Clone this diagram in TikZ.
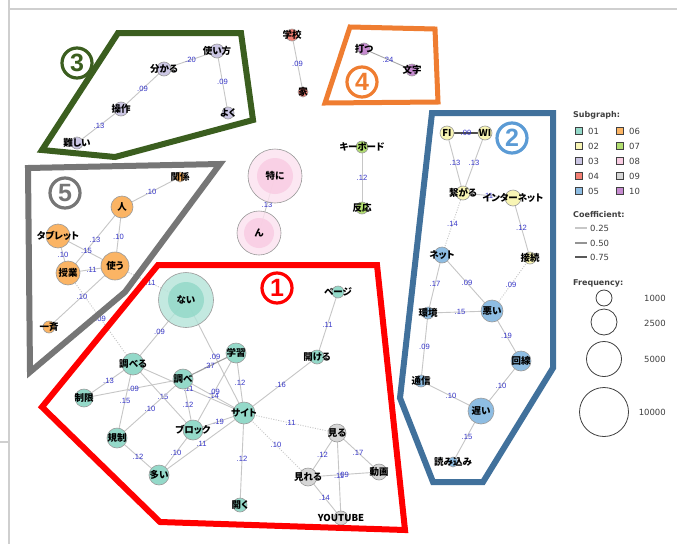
\documentclass[tikz,border=0pt]{standalone}
\usepackage{fontspec}
\setmainfont{Liberation Sans}
\newfontfamily\cjk[RawFeature=+palt]{Noto Sans CJK JP}
\newfontfamily\legfont{DejaVu Sans}
\usetikzlibrary{calc}
\definecolor{cTeal}{HTML}{94D9C9}
\definecolor{cTealH}{HTML}{B4E4D9}
\definecolor{cYel}{HTML}{F8F5B4}
\definecolor{cLav}{HTML}{CBC6E4}
\definecolor{cRed}{HTML}{F47F73}
\definecolor{cBlue}{HTML}{8EBDE3}
\definecolor{cOra}{HTML}{FBB464}
\definecolor{cGrn}{HTML}{B1DE6F}
\definecolor{cPnk}{HTML}{F9CDE3}
\definecolor{cPnkH}{HTML}{FCE2EF}
\definecolor{cGry}{HTML}{D6D6D6}
\definecolor{cPur}{HTML}{C68BD0}
\definecolor{nodegray}{HTML}{9A9A9A}
\definecolor{edgegray}{HTML}{C6C6C6}
\definecolor{labblue}{HTML}{3535C8}
\definecolor{hRed}{HTML}{FF0000}
\definecolor{hGrn}{HTML}{3B5E1F}
\definecolor{hOra}{HTML}{EF7D31}
\definecolor{hBlu}{HTML}{41719C}
\definecolor{hBluL}{HTML}{5B9BD5}
\definecolor{hGry}{HTML}{767676}
\definecolor{frame}{HTML}{CFCFCF}
\definecolor{legtext}{HTML}{404040}
\pgfdeclarelayer{bglayer}
\pgfdeclarelayer{edgelayer}
\pgfsetlayers{bglayer,edgelayer,main}
\newcommand\nd[6]{%
  \node[vtx,fill=#5,minimum size=#4*2pt] (#1) at (#2,#3) {};
  \node[vtxt] at (#1) {#6};}
\newcommand\bignd[8]{%
  \node[vtx,fill=#6,minimum size=#4*2pt,fill opacity=0.8] (#1) at (#2,#3) {};
  \fill[#7,fill opacity=0.85] (#1) circle[radius=#5];
  \node[vtxt] at (#1) {#8};}
\newcommand\ed[4][]{%
  \draw[edgeline,#1] (#2.center) -- (#3.center);
  \node[elab] at ($(#2)!0.5!(#3)$) {#4};}
\begin{document}
\begin{tikzpicture}[x=1pt,y=-1pt,
  vtx/.style={circle,draw=nodegray,line width=0.6pt,inner sep=0pt,outer sep=0pt},
  vtxt/.style={font=\cjk\bfseries\fontsize{9.5}{10}\selectfont,inner sep=0pt,text=black},
  elab/.style={font=\fontsize{7.6}{8}\selectfont,text=labblue,inner sep=0pt},
  edgeline/.style={draw=edgegray,line width=0.9pt},
  crossedge/.style={dash pattern=on 1pt off 1.5pt},
  hull/.style={line width=6pt,line join=miter},
  cnum/.style={circle,draw,line width=3.2pt,minimum size=30pt,inner sep=0pt,
    font=\bfseries\fontsize{25}{25}\selectfont},
  legh/.style={font=\legfont\bfseries\fontsize{8}{9}\selectfont,text=legtext,anchor=west,inner sep=0pt},
  legl/.style={font=\legfont\fontsize{8.5}{9}\selectfont,text=legtext,anchor=west,inner sep=0pt},
  legsq/.style={draw=legtext,line width=0.6pt,minimum size=7.5pt,inner sep=0pt},
  legc/.style={circle,draw=legtext,line width=0.8pt,inner sep=0pt}]
\useasboundingbox (0,0) rectangle (677,544);
\begin{pgfonlayer}{bglayer}
\fill[white] (0,0) rectangle (677,544);
\draw[frame,line width=2pt] (9,0) -- (9,544);
\draw[frame,line width=2pt] (9,9) -- (677,9);
\draw[frame,line width=1.5pt] (0,442) -- (9,442);
\end{pgfonlayer}

% ---------- nodes ----------
% subgraph 03
\nd{uk}{217}{51}{7}{cLav}{使い方}
\nd{wk}{164}{69}{7}{cLav}{分かる}
\nd{so}{121}{109}{7}{cLav}{操作}
\nd{mu}{77}{143}{6}{cLav}{難しい}
\nd{yo}{228}{113}{6}{cLav}{よく}
% 04, 10, 07, 08
\nd{ga}{292}{35}{6}{cRed}{学校}
\nd{ie}{303}{92}{5}{cRed}{家}
\nd{ut}{364}{49}{6}{cPur}{打つ}
\nd{mo}{412}{70}{6}{cPur}{文字}
\nd{kb}{362}{147}{6}{cGrn}{キーボード}
\nd{ha}{362}{208}{6}{cGrn}{反応}
\bignd{tn}{275}{176}{27}{18}{cPnkH}{cPnk}{特に}
\bignd{nn}{259}{233}{22}{15}{cPnkH}{cPnk}{ん}
% 02
\nd{fi}{447}{133}{7}{cYel}{FI}
\nd{wi}{485}{133}{7}{cYel}{WI}
\nd{tg}{463}{193}{7}{cYel}{繋がる}
\nd{in}{513}{198}{8}{cYel}{インターネット}
\nd{se}{530}{258}{6}{cYel}{接続}
% 05
\nd{ne}{442}{255}{8}{cBlue}{ネット}
\nd{kk}{428}{313}{6}{cBlue}{環境}
\nd{wa}{492}{311}{11}{cBlue}{悪い}
\nd{ka}{521}{361}{10}{cBlue}{回線}
\nd{ts}{421}{381}{6}{cBlue}{通信}
\nd{os}{481}{411}{13}{cBlue}{遅い}
\nd{yk}{453}{462}{5}{cBlue}{読み込み}
% 06
\nd{kan}{180}{177}{5}{cOra}{関係}
\nd{hi}{122}{207}{11}{cOra}{人}
\nd{tb}{58}{236}{12}{cOra}{タブレット}
\nd{tu}{115}{266}{14}{cOra}{使う}
\nd{ju}{68}{273}{12}{cOra}{授業}
\nd{is}{49}{327}{6}{cOra}{一斉}
% 01
\bignd{nai}{186}{300}{27.5}{18}{cTealH}{cTeal}{ない}
\nd{sb}{133}{364}{11}{cTeal}{調べる}
\nd{sg}{84}{398}{9}{cTeal}{制限}
\nd{sr}{183}{379}{10}{cTeal}{調べ}
\nd{ki}{117}{438}{10}{cTeal}{規制}
\nd{bl}{193}{430}{10}{cTeal}{ブロック}
\nd{oo}{159}{475}{10}{cTeal}{多い}
\nd{gk}{236}{353}{10}{cTeal}{学習}
\nd{st}{244}{413}{11}{cTeal}{サイト}
\nd{pg}{338}{292}{6}{cTeal}{ページ}
\nd{ak}{317}{357}{7}{cTeal}{開ける}
\nd{hr}{240}{505}{7}{cTeal}{開く}
% 09
\nd{mi}{337}{433}{9}{cGry}{見る}
\nd{mr}{308}{477}{9}{cGry}{見れる}
\nd{dg}{379}{472}{8}{cGry}{動画}
\nd{yt}{341}{518}{7}{cGry}{YOUTUBE}

% ---------- edges ----------
\begin{pgfonlayer}{edgelayer}
\ed{uk}{wk}{.20}
\ed{wk}{so}{.09}
\ed{so}{mu}{.13}
\ed{uk}{yo}{.09}
\ed[draw=gray!70]{ut}{mo}{.24}
\ed{ga}{ie}{.09}
\ed{kb}{ha}{.12}
\ed{tn}{nn}{.13}
\ed[draw=black!70,line width=1.3pt]{fi}{wi}{.09}
\ed{fi}{tg}{.13}
\ed{wi}{tg}{.13}
\ed{tg}{in}{.11}
\ed{in}{se}{.12}
\ed[crossedge]{tg}{ne}{.14}
\ed{ne}{kk}{.17}
\ed{ne}{wa}{.09}
\ed[crossedge]{se}{wa}{.09}
\ed{kk}{wa}{.15}
\ed{wa}{ka}{.19}
\ed{kk}{ts}{.09}
\ed{ts}{os}{.10}
\ed{ka}{os}{.10}
\ed{os}{yk}{.15}
\ed{kan}{hi}{.10}
\ed{hi}{ju}{.13}
\ed{hi}{tu}{.10}
\ed{tb}{tu}{.15}
\ed{tb}{ju}{.10}
\ed{ju}{tu}{.11}
\ed{tu}{is}{.10}
\ed[crossedge]{ju}{sb}{.09}
\ed[crossedge]{tu}{nai}{.11}
\ed{nai}{sb}{.09}
\ed{nai}{st}{.09}
\ed{sb}{sg}{.13}
\ed{sg}{sr}{.09}
\ed{sb}{ki}{.15}
\ed{sb}{bl}{.15}
\ed{sb}{st}{.11}
\ed[draw=gray!75,line width=1.1pt]{sr}{gk}{.37}
\ed{sr}{bl}{.12}
\ed{sr}{st}{.14}
\ed{sr}{ki}{.10}
\ed{gk}{bl}{.09}
\ed{gk}{st}{.12}
\ed{bl}{st}{.19}
\ed{ki}{oo}{.12}
\ed{bl}{oo}{.10}
\ed{st}{oo}{.11}
\ed{st}{ak}{.16}
\ed{ak}{pg}{.11}
\ed{st}{hr}{.12}
\ed[crossedge]{st}{mi}{.11}
\ed[crossedge]{st}{mr}{.10}
\ed{mi}{mr}{.12}
\ed{mi}{dg}{.17}
\ed{mr}{dg}{.09}
\ed{mi}{yt}{.11}
\ed{mr}{yt}{.14}
\end{pgfonlayer}

% ---------- hulls ----------
\draw[hull,hRed] (158,265) -- (377,265) -- (405,530) -- (160,522) -- (42,407) -- cycle;
\draw[hull,hGrn] (118,33) -- (241,33) -- (253,120) -- (115,157) -- (42,150) -- cycle;
\draw[hull,hOra,line width=5pt] (350,27) -- (435,29) -- (438,102) -- (325,103) -- cycle;
\draw[hull,hBlu] (432,113) -- (553,113) -- (553,368) -- (483,482) -- (433,482) -- (400,398) -- cycle;
\draw[hull,hGry] (28,168) -- (220,164) -- (125,292) -- (30,372) -- cycle;
\node[cnum,hRed,text=hRed] (c1) at (277,288) {1};
\node[cnum,hBluL,text=hBluL] (c2) at (512,138) {2};
\node[cnum,hGrn,text=hGrn] (c3) at (77,63) {3};
\node[cnum,hOra,text=hOra] (c4) at (362,82) {4};
\node[cnum,hGry,text=hGry] (c5) at (65,193) {5};

% ---------- legend ----------
\node[legh] (lsub) at (573,115) {Subgraph:};
\foreach \c/\t/\yy in {cTeal/01/131,cYel/02/146,cLav/03/161,cRed/04/176,cBlue/05/191}{
  \node[legsq,fill=\c] (sq\t) at (579,\yy) {};
  \node[legl] (lt\t) at (588,\yy) {\t};}
\foreach \c/\t/\yy in {cOra/06/131,cGrn/07/146,cPnk/08/161,cGry/09/176,cPur/10/191}{
  \node[legsq,fill=\c] (sq\t) at (620,\yy) {};
  \node[legl] (lt\t) at (629,\yy) {\t};}
\node[legh] (lcoef) at (573,215) {Coefficient:};
\coordinate (la1) at (575,228); \coordinate (lb1) at (587,228);
\coordinate (la2) at (575,243); \coordinate (lb2) at (587,243);
\coordinate (la3) at (575,257); \coordinate (lb3) at (587,257);
\draw[line width=1.1pt,black!22] (la1) -- (lb1);
\draw[line width=1.1pt,black!42] (la2) -- (lb2);
\draw[line width=1.1pt,black!65] (la3) -- (lb3);
\node[legl] (lc1) at (590,228) {0.25};
\node[legl] (lc2) at (590,243) {0.50};
\node[legl] (lc3) at (590,257) {0.75};
\node[legh] (lfreq) at (573,283) {Frequency:};
\node[legc,minimum size=16pt] (f1) at (604,298) {};
\node[legc,minimum size=26pt] (f2) at (604,322) {};
\node[legc,minimum size=35pt] (f3) at (604,359) {};
\node[legc,minimum size=49pt] (f4) at (604,412) {};
\node[legl,anchor=east] (ft1) at (666,298) {1000};
\node[legl,anchor=east] (ft2) at (666,323) {2500};
\node[legl,anchor=east] (ft3) at (666,359) {5000};
\node[legl,anchor=east] (ft4) at (666,412) {10000};
\end{tikzpicture}
\end{document}
